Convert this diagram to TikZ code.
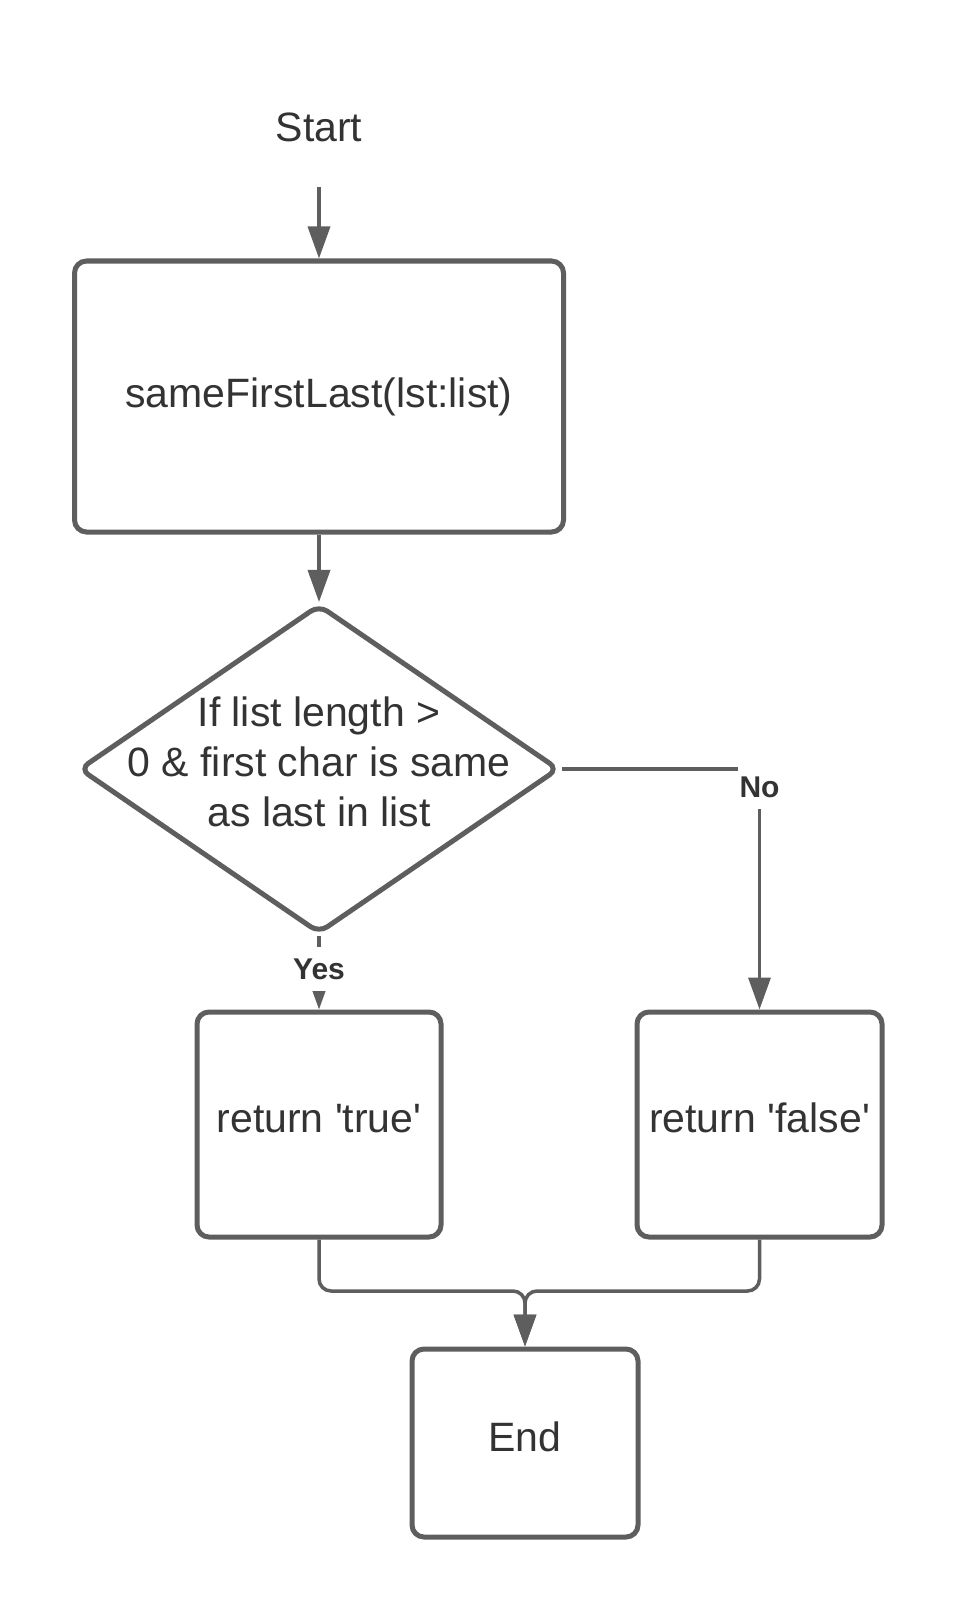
\documentclass[tikz,border=0pt]{standalone}
\usepackage{fontspec}
\setmainfont{Liberation Sans}
\usetikzlibrary{shapes.geometric,arrows.meta}
\definecolor{linegray}{HTML}{5E5E5E}
\definecolor{textgray}{HTML}{333333}
\begin{document}
\begin{tikzpicture}[x=1pt,y=-1pt,
  box/.style={draw=linegray, line width=5pt, rounded corners=12pt, fill=white, text=textgray,
    font=\fontsize{41}{50}\selectfont, inner sep=0pt, align=center},
  lifted/.style={text depth=13pt},
  dec/.style={draw=linegray, line width=5pt, shape=diamond, rounded corners=10pt, fill=white,
    inner sep=0pt, minimum width=480pt, minimum height=329pt},
  txt/.style={text=textgray, font=\fontsize{41}{50}\selectfont, align=center, inner sep=0pt},
  conn/.style={draw=linegray, line width=3.5pt, -{Triangle[length=32pt,width=22pt]}},
  lbl/.style={fill=white, text=textgray, font=\bfseries\fontsize{30}{36}\selectfont,
    inner sep=0pt, minimum width=44pt, minimum height=44pt}
]
\useasboundingbox[fill=white] (0,0) rectangle (956,1613);

\node[txt, minimum height=120pt] (start) at (319,127) {Start};
\node[box, minimum width=489pt, minimum height=271pt] (b1) at (319,396.5) {sameFirstLast(lst:list)};
\node[dec] (d) at (319,769) {};
\node[txt] (dtext) at (319,762) {If list length >\\0 \& first char is same\\as last in list};
\node[box, lifted, minimum width=244pt, minimum height=225pt] (t) at (319,1124.5) {return \textquotesingle true\textquotesingle};
\node[box, lifted, minimum width=245pt, minimum height=225pt] (f) at (759.5,1124.5) {return \textquotesingle false\textquotesingle};
\node[box, lifted, minimum width=226pt, minimum height=188pt] (e) at (525,1443) {End};
\coordinate (m) at (525,1291);

\draw[conn] (start) -- (b1);
\draw[conn] (b1) -- (d);
\draw[conn] (d.south) -- (d.south |- t.north);
\draw[conn] (d.east) -| (f.north);
\draw[conn, rounded corners=12pt] (t.south) |- (m) -- (e.north);
\draw[conn, rounded corners=12pt] (f.south) |- (m) -- (e.north);

\node[lbl] (yes) at (319,969) {Yes};
\node[lbl] (no) at (759.5,787) {No};
\end{tikzpicture}
\end{document}
